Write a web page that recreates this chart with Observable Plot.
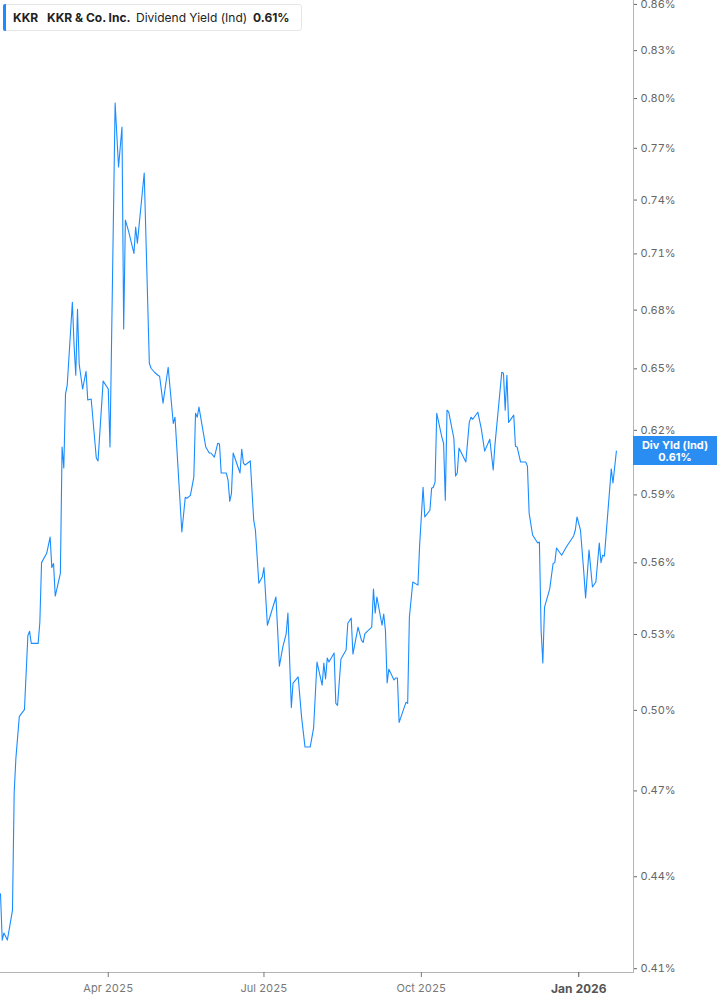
<!DOCTYPE html>
<html>
<head>
<meta charset="utf-8">
<script src="https://cdn.jsdelivr.net/npm/d3@7"></script>
<script src="https://cdn.jsdelivr.net/npm/@observablehq/plot@0.6"></script>
<style>
html, body { margin: 0; padding: 0; background: #fff; }
#wrap { position: relative; width: 717px; height: 1005px; overflow: hidden; font-family: Inter, "Noto Sans", sans-serif; }
#legend { position: absolute; left: 3px; top: 4px; width: 299px; height: 27px; box-sizing: border-box; border: 1px solid #e6e6e6; border-radius: 3px; background: #fff; font-size: 12px; color: #222; white-space: nowrap; }
#legend .bar { position: absolute; left: -1px; top: -1px; bottom: -1px; width: 3px; background: #1a8cff; border-radius: 2px 0 0 2px; }
#legend span { position: absolute; top: 5px; }
#legend .b { font-weight: 700; }
#vlabel { position: absolute; left: 633px; width: 84px; height: 29px; background: #2a8df2; color: #fff; font-weight: 700; font-size: 11px; line-height: 12px; text-align: center; box-sizing: border-box; padding-top: 3px; }
</style>
</head>
<body>
<div id="wrap">
  <div id="chart"></div>
  <div id="legend">
    <div class="bar"></div>
    <span class="b" style="left:9px">KKR</span>
    <span class="b" style="left:43px">KKR &amp; Co. Inc.</span>
    <span style="left:132px">Dividend Yield (Ind)</span>
    <span class="b" style="left:249px" id="legval"></span>
  </div>
  <div id="vlabel"><div>Div Yld (Ind)</div><div id="vlabelval"></div></div>
</div>
<script>
const dates = [
"2025-01-28","2025-01-29","2025-01-30","2025-02-01","2025-02-04","2025-02-05","2025-02-06","2025-02-08","2025-02-11","2025-02-13",
"2025-02-14","2025-02-15","2025-02-19","2025-02-20","2025-02-21","2025-02-24","2025-02-26","2025-02-27","2025-02-28","2025-03-01",
"2025-03-04","2025-03-05","2025-03-06","2025-03-07","2025-03-08","2025-03-11","2025-03-12","2025-03-13","2025-03-14","2025-03-15",
"2025-03-17","2025-03-19","2025-03-20","2025-03-22","2025-03-25","2025-03-26","2025-03-29","2025-04-01","2025-04-02","2025-04-05",
"2025-04-07","2025-04-09","2025-04-10","2025-04-11","2025-04-13","2025-04-16","2025-04-17","2025-04-18","2025-04-22","2025-04-25",
"2025-04-26","2025-04-28","2025-04-30","2025-05-01","2025-05-03","2025-05-06","2025-05-09","2025-05-10","2025-05-14","2025-05-16",
"2025-05-17","2025-05-19","2025-05-21","2025-05-22","2025-05-23","2025-05-24","2025-05-28","2025-05-30","2025-05-31","2025-06-02",
"2025-06-04","2025-06-05","2025-06-06","2025-06-09","2025-06-10","2025-06-11","2025-06-12","2025-06-13","2025-06-17","2025-06-18",
"2025-06-19","2025-06-20","2025-06-23","2025-06-25","2025-06-26","2025-06-28","2025-06-30","2025-07-01","2025-07-03","2025-07-08",
"2025-07-09","2025-07-10","2025-07-12","2025-07-14","2025-07-15","2025-07-17","2025-07-18","2025-07-21","2025-07-23","2025-07-25",
"2025-07-28","2025-07-30","2025-08-01","2025-08-04","2025-08-05","2025-08-06","2025-08-07","2025-08-08","2025-08-11","2025-08-12",
"2025-08-13","2025-08-15","2025-08-18","2025-08-19","2025-08-21","2025-08-22","2025-08-25","2025-08-27","2025-08-28","2025-08-29",
"2025-09-02","2025-09-03","2025-09-04","2025-09-05","2025-09-08","2025-09-09","2025-09-10","2025-09-11","2025-09-12","2025-09-15",
"2025-09-16","2025-09-17","2025-09-18","2025-09-22","2025-09-23","2025-09-24","2025-09-26","2025-09-29","2025-09-30","2025-10-02",
"2025-10-03","2025-10-06","2025-10-07","2025-10-08","2025-10-09","2025-10-10","2025-10-13","2025-10-14","2025-10-15","2025-10-16",
"2025-10-17","2025-10-20","2025-10-21","2025-10-22","2025-10-23","2025-10-27","2025-10-29","2025-10-30","2025-10-31","2025-11-03",
"2025-11-05","2025-11-07","2025-11-10","2025-11-12","2025-11-13","2025-11-17","2025-11-18","2025-11-19","2025-11-20","2025-11-21",
"2025-11-24","2025-11-25","2025-11-26","2025-11-28","2025-12-01","2025-12-02","2025-12-03","2025-12-05","2025-12-08","2025-12-09",
"2025-12-10","2025-12-11","2025-12-12","2025-12-15","2025-12-17","2025-12-18","2025-12-19","2025-12-22","2025-12-23","2025-12-25",
"2025-12-29","2025-12-30","2025-12-31","2026-01-02","2026-01-04","2026-01-05","2026-01-07","2026-01-09","2026-01-11","2026-01-13",
"2026-01-14","2026-01-15","2026-01-16","2026-01-20","2026-01-21","2026-01-23"
];
const yieldPct = [
0.4343,0.4191,0.4214,0.4191,0.4288,0.4694,0.4820,0.4977,0.5003,0.5296,
0.5313,0.5264,0.5264,0.5350,0.5601,0.5641,0.5712,0.5580,0.5597,0.5459,
0.5555,0.6121,0.6023,0.6375,0.6419,0.6841,0.6620,0.6468,0.6804,0.6523,
0.6400,0.6488,0.6346,0.6351,0.6070,0.6056,0.6439,0.6400,0.6121,0.7972,
0.7590,0.7827,0.6702,0.7287,0.7220,0.7103,0.7248,0.7159,0.7555,0.6528,
0.6503,0.6483,0.6468,0.6463,0.6331,0.6508,0.6233,0.6263,0.5734,0.5889,
0.5885,0.5898,0.5981,0.6282,0.6263,0.6312,0.6121,0.6093,0.6093,0.6074,
0.6139,0.6135,0.6000,0.6000,0.5968,0.5871,0.5907,0.6093,0.6000,0.6111,
0.6046,0.6037,0.6056,0.5787,0.5743,0.5513,0.5539,0.5580,0.5338,0.5455,
0.5317,0.5173,0.5249,0.5304,0.5388,0.5011,0.5106,0.5130,0.4973,0.4861,
0.4861,0.4932,0.5189,0.5098,0.5185,0.5122,0.5205,0.5189,0.5225,0.5027,
0.5019,0.5201,0.5237,0.5346,0.5367,0.5221,0.5330,0.5276,0.5268,0.5304,
0.5330,0.5488,0.5388,0.5455,0.5338,0.5384,0.5317,0.5106,0.5161,0.5118,
0.5126,0.5126,0.4954,0.5031,0.5027,0.5371,0.5518,0.5505,0.5677,0.5935,
0.5801,0.5831,0.5930,0.5935,0.5958,0.6282,0.6167,0.6139,0.5876,0.6297,
0.6287,0.6162,0.5986,0.6000,0.6116,0.6051,0.6238,0.6263,0.6253,0.6287,
0.6209,0.6102,0.6158,0.6014,0.6130,0.6483,0.6478,0.6297,0.6468,0.6238,
0.6273,0.6125,0.6121,0.6051,0.6051,0.6032,0.5818,0.5721,0.5686,0.5690,
0.5317,0.5185,0.5413,0.5488,0.5597,0.5601,0.5664,0.5633,0.5646,0.5672,
0.5717,0.5743,0.5801,0.5743,0.5555,0.5451,0.5655,0.5497,0.5518,0.5686,
0.5601,0.5633,0.5629,0.6019,0.5954,0.6102
];
const yTickValues = [0.41,0.44,0.47,0.50,0.53,0.56,0.59,0.62,0.65,0.68,0.71,0.74,0.77,0.80,0.83,0.86];
const xTickDates = ["2025-04-01","2025-07-01","2025-10-01"];
const xTickBoldDates = ["2026-01-01"];
const xDomain = ["2025-01-28","2026-02-02"];
const yDomain = [0.4088, 0.8626];

const data = dates.map((d, i) => ({date: new Date(d), value: yieldPct[i]}));
const fmtPct = v => v.toFixed(2) + "%";
const fmtMonth = d3.utcFormat("%b %Y");

const chart = Plot.plot({
  width: 717,
  height: 1005,
  marginLeft: 0,
  marginRight: 84,
  marginTop: 0,
  marginBottom: 33,
  style: {fontFamily: "Inter, 'Noto Sans', sans-serif", fontSize: "11px", background: "transparent", overflow: "visible"},
  x: {type: "utc", domain: xDomain.map(d => new Date(d))},
  y: {type: "log", domain: yDomain},
  marks: [
    Plot.frame({anchor: "bottom", stroke: "#b5b5b5"}),
    Plot.frame({anchor: "right", stroke: "#b5b5b5"}),
    Plot.axisY(yTickValues, {anchor: "right", tickSize: 3, tickPadding: 4, tickFormat: fmtPct, color: "#666", label: null}),
    Plot.axisX(xTickDates.map(d => new Date(d)), {anchor: "bottom", tickSize: 5, tickPadding: 7, tickFormat: fmtMonth, color: "#777", label: null}),
    Plot.axisX(xTickBoldDates.map(d => new Date(d)), {anchor: "bottom", tickSize: 5, tickPadding: 7, tickFormat: fmtMonth, color: "#555", fontWeight: "bold", fontSize: 12, label: null}),
    Plot.line(data, {x: "date", y: "value", stroke: "#1a8cff", strokeWidth: 1.1})
  ]
});
document.getElementById("chart").appendChild(chart);

const last = yieldPct[yieldPct.length - 1];
document.getElementById("legval").textContent = fmtPct(last);
document.getElementById("vlabelval").textContent = fmtPct(last);
const yPix = chart.scale("y").apply(last);
document.getElementById("vlabel").style.top = (yPix - 14.5) + "px";
</script>
</body>
</html>
